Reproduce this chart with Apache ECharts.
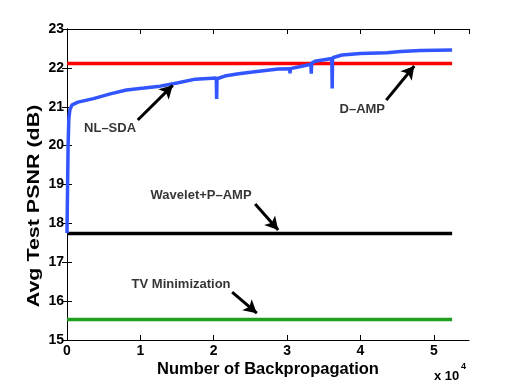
<!DOCTYPE html>
<html>
<head>
<meta charset="utf-8">
<script src="https://cdn.jsdelivr.net/npm/echarts@6/dist/echarts.min.js"></script>
<style>
  html, body { margin: 0; padding: 0; background: #fff; }
  #chart { width: 518px; height: 384px; }
</style>
</head>
<body>
<div id="chart"></div>
<script>
// 数据 (x = number of backpropagation, y = PSNR dB)
const NL_SDA = [
  [0, 17.75], [150, 20.0], [250, 20.7], [400, 20.93], [700, 21.05], [1500, 21.12],
  [3600, 21.21], [5900, 21.33], [8100, 21.43], [10500, 21.48], [12700, 21.53],
  [15000, 21.61], [17500, 21.71], [20350, 21.74], [20400, 21.2], [20450, 21.72],
  [21500, 21.79], [23400, 21.85], [25600, 21.9], [28800, 21.97], [30350, 21.98],
  [30400, 21.86], [30450, 21.98], [32000, 22.04], [33250, 22.09], [33300, 21.85],
  [33350, 22.12], [33800, 22.17], [36100, 22.24], [36150, 21.47], [36200, 22.26],
  [37500, 22.33], [40000, 22.37], [43600, 22.39], [45500, 22.42], [48200, 22.45],
  [52500, 22.46]
];
const X_RANGE = [0, 52500];
const D_AMP = 22.11;
const WAVELET_PAMP = 17.74;
const TV_MIN = 15.53;

// 标注: 文字位置, 箭头起点, 箭头终点
const NOTE_TEXT = ['NL–SDA', 'D–AMP', 'Wavelet+P–AMP', 'TV Minimization'];
const NOTE_POS = [[5870, 20.43], [40250, 20.94], [18280, 18.73], [15550, 16.44]];
const ARROW_FROM = [[9645, 20.66], [43520, 21.17], [25650, 18.50], [22510, 16.23]];
const ARROW_TO = [[14420, 21.55], [47340, 22.05], [28790, 17.83], [25880, 15.69]];

const FONT = 'Liberation Sans, Arial, sans-serif';

function flat(v) {
  return X_RANGE.map(x => [x, v]);
}

const chart = echarts.init(document.getElementById('chart'));

const axisCommon = {
  axisLine: { show: true, lineStyle: { color: '#000', width: 1 } },
  axisTick: { show: true, inside: true, length: 5, lineStyle: { color: '#000' } },
  splitLine: { show: false }
};

chart.setOption({
  animation: false,
  backgroundColor: '#fff',
  grid: { left: 67, right: 49, top: 29, bottom: 44 },
  xAxis: [
    Object.assign({
      type: 'value', min: 0, max: 54800, interval: 10000, position: 'bottom',
      axisLabel: {
        color: '#000', fontFamily: FONT, fontWeight: 'bold', fontSize: 14, margin: 4,
        showMaxLabel: false,
        formatter: v => String(v / 10000)
      }
    }, axisCommon),
    Object.assign({
      type: 'value', min: 0, max: 54800, interval: 10000, position: 'top',
      axisLabel: { show: false }
    }, axisCommon)
  ],
  yAxis: [
    Object.assign({
      type: 'value', min: 15, max: 23, interval: 1, position: 'left',
      axisLabel: { color: '#000', fontFamily: FONT, fontWeight: 'bold', fontSize: 14, margin: 3 }
    }, axisCommon),
    Object.assign({
      type: 'value', min: 15, max: 23, interval: 1, position: 'right',
      axisLabel: { show: false }
    }, axisCommon)
  ],
  series: [
    {
      name: 'TV Minimization', type: 'line', data: flat(TV_MIN), symbol: 'none',
      lineStyle: { color: '#1f9e1f', width: 3.5 }
    },
    {
      name: 'Wavelet+P-AMP', type: 'line', data: flat(WAVELET_PAMP), symbol: 'none',
      lineStyle: { color: '#000', width: 3.5 }
    },
    {
      name: 'D-AMP', type: 'line', data: flat(D_AMP), symbol: 'none',
      lineStyle: { color: '#ff0000', width: 3.5 }
    },
    {
      name: 'NL-SDA', type: 'line', data: NL_SDA, symbol: 'none',
      lineStyle: { color: '#3355ff', width: 3.5 },
      markLine: {
        silent: true,
        symbol: ['none', 'arrow'],
        symbolSize: [11, 13],
        label: { show: false },
        lineStyle: { color: '#000', width: 3, type: 'solid' },
        data: ARROW_FROM.map((p, i) => [{ coord: p }, { coord: ARROW_TO[i] }])
      }
    },
    {
      name: 'notes', type: 'scatter', symbolSize: 0,
      data: NOTE_POS.map((p, i) => [p[0], p[1], NOTE_TEXT[i]]),
      label: {
        show: true, position: 'inside', color: '#000',
        fontFamily: FONT, fontWeight: 'bold', fontSize: 13,
        formatter: p => p.data[2]
      }
    }
  ],
  graphic: [
    {
      type: 'text', x: 268, y: 369,
      style: {
        text: 'Number of Backpropagation', fill: '#000', font: 'bold 16.5px ' + FONT,
        align: 'center', verticalAlign: 'middle'
      }
    },
    {
      type: 'text', x: 34, y: 206, rotation: Math.PI / 2, scaleX: 1.3,
      style: {
        text: 'Avg Test PSNR (dB)', fill: '#000', font: 'bold 16.5px ' + FONT,
        align: 'center', verticalAlign: 'middle'
      }
    },
    {
      type: 'text', x: 434, y: 376,
      style: {
        text: 'x 10', fill: '#000', font: 'bold 13px ' + FONT,
        align: 'left', verticalAlign: 'middle'
      }
    },
    {
      type: 'text', x: 461, y: 367,
      style: {
        text: '4', fill: '#000', font: 'bold 9px ' + FONT,
        align: 'left', verticalAlign: 'middle'
      }
    }
  ]
});
</script>
</body>
</html>
